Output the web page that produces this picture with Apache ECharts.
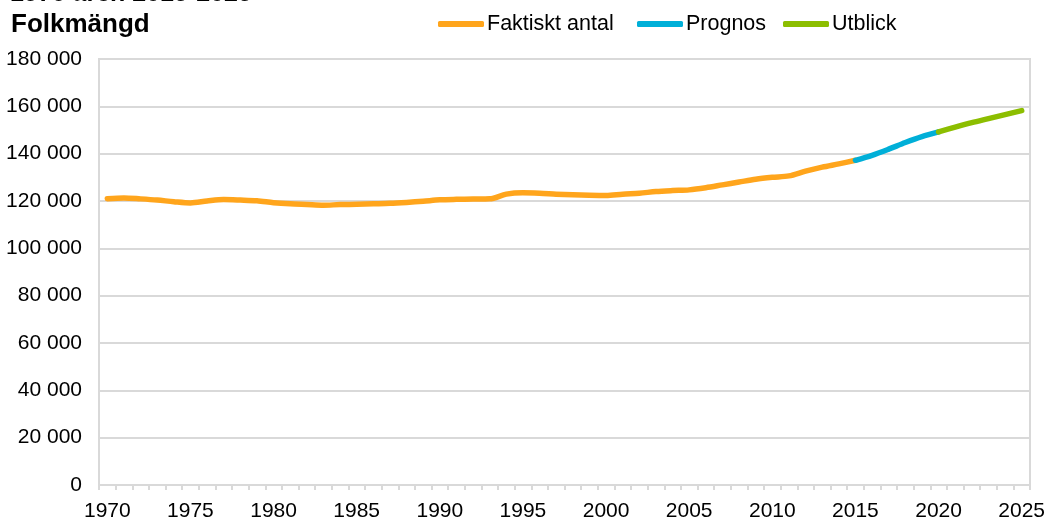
<!DOCTYPE html>
<html>
<head>
<meta charset="utf-8">
<script src="https://cdn.jsdelivr.net/npm/echarts@6/dist/echarts.min.js"></script>
<style>
html,body{margin:0;padding:0;background:#fff;}
#chart{width:1047px;height:519px;}
</style>
</head>
<body>
<div id="chart"></div>
<script>
const years = [];
for (let y = 1970; y <= 2025; y++) years.push(String(y));

const actualYears = ['1970','1971','1972','1973','1974','1975','1976','1977','1978','1979',
  '1980','1981','1982','1983','1984','1985','1986','1987','1988','1989',
  '1990','1991','1992','1993','1994','1995','1996','1997','1998','1999',
  '2000','2001','2002','2003','2004','2005','2006','2007','2008','2009',
  '2010','2011','2012','2013','2014','2015'];
const actualValues = [121000,121300,120900,120400,119700,119200,120000,120600,120400,120100,
  119300,118800,118500,118200,118500,118600,118800,119000,119400,119900,
  120500,120700,120800,120900,122900,123500,123300,122900,122600,122400,
  122300,122900,123300,124000,124400,124700,125600,126800,128000,129200,
  130000,130600,132600,134300,135700,137200];

const prognosYears = ['2015','2016','2017','2018','2019','2020'];
const prognosValues = [137200,139300,141900,144700,147200,149200];

const utblickYears = ['2020','2021','2022','2023','2024','2025'];
const utblickValues = [149200,151200,153100,154800,156500,158200];

const yTicks = [0,20000,40000,60000,80000,100000,120000,140000,160000,180000];

const seriesNames = ['Faktiskt antal','Prognos','Utblick'];
const colors = ['#FFA51C','#00AFD8','#8CBE00'];

function toPairs(ys, vs){ return ys.map((y,i)=>[y, vs[i]]); }

const fmt = v => {
  const s = String(Math.round(v));
  return s.replace(/\B(?=(\d{3})+(?!\d))/g, ' ');
};

const FONT = '"Liberation Sans", Arial, sans-serif';
const chart = echarts.init(document.getElementById('chart'));
const legendBase = {
  icon: 'roundRect', itemWidth: 46, itemHeight: 6, itemGap: 4,
  textStyle: {fontFamily: FONT, fontSize: 21.5, color: '#000', padding: [0,0,0,-2]},
  top: 13, padding: 0
};
chart.setOption({
  animation: false,
  textStyle: {fontFamily: FONT},
  color: colors,
  title: [
    {text: '1970 åren 2015-2025', left: 10, top: -18, padding: 0,
     textStyle: {fontFamily: FONT, fontWeight: 'bold', fontSize: 25, color: '#000'}},
    {text: 'Folkmängd', left: 11, top: 12, padding: 0,
     textStyle: {fontFamily: FONT, fontWeight: 'bold', fontSize: 26, color: '#000'}}
  ],
  legend: [
    Object.assign({}, legendBase, {left: 438, data: [seriesNames[0]]}),
    Object.assign({}, legendBase, {left: 637, data: [seriesNames[1]]}),
    Object.assign({}, legendBase, {left: 783, data: [seriesNames[2]]})
  ],
  grid: {left: 99, right: 17, top: 59, bottom: 34, show: true, borderColor: '#d9d9d9', borderWidth: 2,
         containLabel: false, outerBoundsMode: 'none'},
  xAxis: {
    type: 'category', data: years, boundaryGap: true,
    axisLine: {lineStyle: {color: '#d9d9d9', width: 2}},
    axisTick: {show: true, interval: 0, length: 5, lineStyle: {color: '#d9d9d9', width: 2}},
    axisLabel: {interval: 4, fontSize: 21, color: '#000', margin: 16, fontFamily: FONT}
  },
  yAxis: {
    type: 'value', min: 0, max: 180000, interval: 20000,
    axisLine: {show: true, lineStyle: {color: '#d9d9d9', width: 2}},
    axisTick: {show: false},
    splitLine: {lineStyle: {color: '#d9d9d9', width: 2}},
    axisLabel: {fontSize: 21, color: '#000', margin: 17, fontFamily: FONT, formatter: v => yTicks.includes(v) ? fmt(v) : ''}
  },
  series: [
    {name: seriesNames[0], type: 'line', data: toPairs(actualYears, actualValues), symbol: 'none', smooth: 0.3,
     lineStyle: {width: 5.5, color: colors[0], cap: 'round', join: 'round'}, itemStyle: {color: colors[0]}},
    {name: seriesNames[1], type: 'line', data: toPairs(prognosYears, prognosValues), symbol: 'none', smooth: 0.3,
     lineStyle: {width: 5.5, color: colors[1], cap: 'round', join: 'round'}, itemStyle: {color: colors[1]}},
    {name: seriesNames[2], type: 'line', data: toPairs(utblickYears, utblickValues), symbol: 'none', smooth: 0.3,
     lineStyle: {width: 5.5, color: colors[2], cap: 'round', join: 'round'}, itemStyle: {color: colors[2]}}
  ]
});
</script>
</body>
</html>
